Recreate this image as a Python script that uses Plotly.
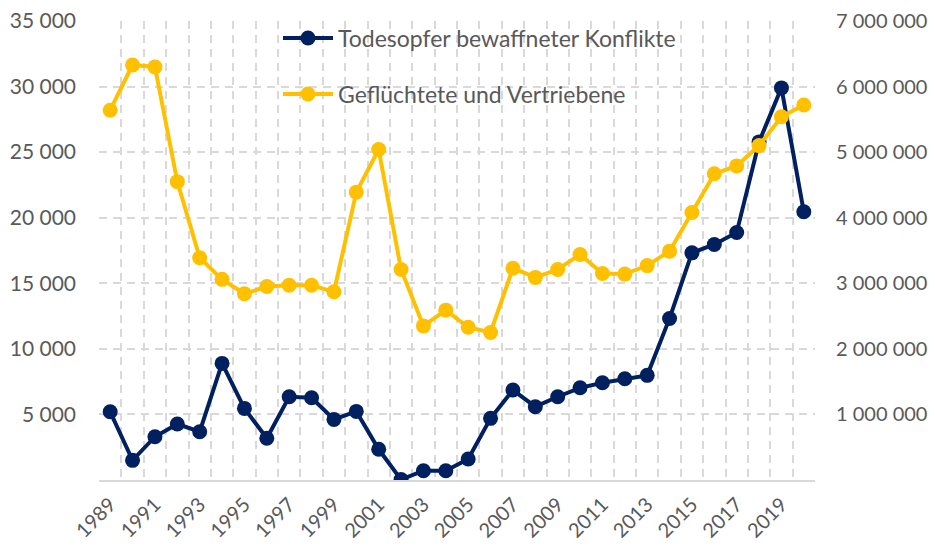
import plotly.graph_objects as go

years = list(range(1989, 2021))
deaths = [5200, 1500, 3300, 4270, 3680, 8890, 5460, 3180, 6350, 6270,
          4620, 5230, 2340, 30, 710, 700, 1600, 4700, 6860, 5590,
          6350, 7030, 7410, 7720, 7980, 12320, 17320, 17960, 18870, 25780,
          29900, 20450]
refugees = [5640000, 6330000, 6300000, 4550000, 3390000, 3060000, 2840000, 2950000, 2970000, 2970000,
            2870000, 4390000, 5040000, 3210000, 2350000, 2590000, 2330000, 2250000, 3230000, 3090000,
            3210000, 3440000, 3150000, 3140000, 3270000, 3490000, 4080000, 4670000, 4790000, 5100000,
            5540000, 5720000]
name_deaths = "Todesopfer bewaffneter Konflikte"
name_refugees = "Geflüchtete und Vertriebene"
left_ticks = [5000, 10000, 15000, 20000, 25000, 30000, 35000]
left_labels = ["5 000", "10 000", "15 000", "20 000", "25 000", "30 000", "35 000"]
right_ticks = [1000000, 2000000, 3000000, 4000000, 5000000, 6000000, 7000000]
right_labels = ["1 000 000", "2 000 000", "3 000 000", "4 000 000", "5 000 000", "6 000 000", "7 000 000"]
x_ticks = list(range(1989, 2021, 2))

NAVY = "#002060"
GOLD = "#FFC000"
TXT = "#595959"
GRID = "#d9d9d9"
FONT = "Lato"

fig = go.Figure()
fig.add_trace(go.Scatter(x=years, y=refugees, name=name_refugees, yaxis="y2",
                         mode="lines+markers", line=dict(color=GOLD, width=4),
                         marker=dict(color=GOLD, size=15), legend="legend2"))
fig.add_trace(go.Scatter(x=years, y=deaths, name=name_deaths, yaxis="y",
                         mode="lines+markers", line=dict(color=NAVY, width=4),
                         marker=dict(color=NAVY, size=15), legend="legend"))

fig.add_shape(type="rect", xref="paper", yref="paper", x0=0.18, x1=0.895, y0=0.782, y1=1.0,
              fillcolor="white", line=dict(width=0), layer="between")

fig.update_layout(
    width=935, height=546,
    margin=dict(l=99, r=120, t=21, b=66, autoexpand=False),
    paper_bgcolor="white", plot_bgcolor="white",
    font=dict(family=FONT, size=21, color=TXT),
    showlegend=True,
    legend=dict(x=0.25, y=0.963, xanchor="left", yanchor="middle", itemwidth=50,
                bgcolor="rgba(0,0,0,0)", font=dict(family=FONT, size=23, color=TXT)),
    legend2=dict(x=0.25, y=0.841, xanchor="left", yanchor="middle", itemwidth=50,
                 bgcolor="rgba(0,0,0,0)", font=dict(family=FONT, size=23, color=TXT)),
    xaxis=dict(range=[1988.5, 2020.5], tickvals=x_ticks, tickangle=-45, automargin=False,
               showgrid=False, zeroline=False, showline=True, linecolor=GRID, linewidth=2,
               ticks="", ticklabelstandoff=3,
               tickfont=dict(family=FONT, size=20, color=TXT),
               minor=dict(tick0=1988.5, dtick=1, showgrid=True, gridcolor=GRID,
                          griddash="8px,6px", gridwidth=1.5)),
    yaxis=dict(range=[0, 35000], tickvals=left_ticks, ticktext=left_labels, automargin=False,
               showgrid=True, gridcolor=GRID, griddash="8px,6px", gridwidth=1.5,
               zeroline=False, ticks="", ticklabelstandoff=22,
               tickfont=dict(family=FONT, size=21, color=TXT)),
    yaxis2=dict(range=[0, 7000000], tickvals=right_ticks, ticktext=right_labels, automargin=False,
                overlaying="y", side="right", showgrid=False, zeroline=False,
                ticks="", ticklabelstandoff=20,
                tickfont=dict(family=FONT, size=20, color=TXT)),
)

fig.write_html("out.html", config={"displayModeBar": False},
               post_script="document.body.style.margin='0';document.body.style.padding='0';")
